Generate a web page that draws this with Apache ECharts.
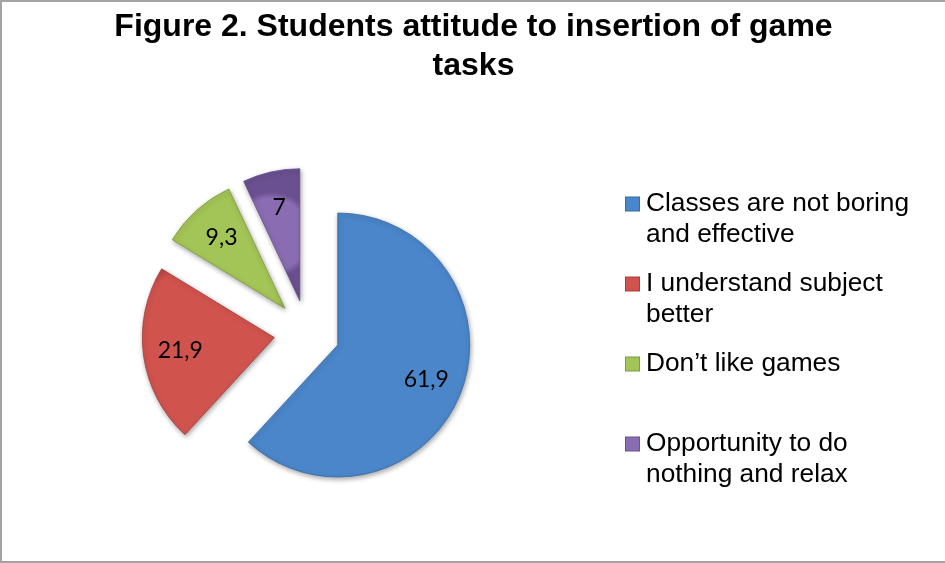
<!DOCTYPE html>
<html>
<head>
<meta charset="utf-8">
<script src="https://cdn.jsdelivr.net/npm/echarts@6/dist/echarts.min.js"></script>
<style>
  html, body { margin: 0; padding: 0; background: #fff; }
  #chart {
    width: 943px; height: 559px;
    border-top: 2px solid #a3a3a3;
    border-left: 2px solid #a3a3a3;
    border-bottom: 2px solid #a3a3a3;
  }
</style>
</head>
<body>
<div id="chart"></div>
<script>
// Survey answers (percent of students)
const categories = [
  'Classes are not boring and effective',
  'I understand subject better',
  'Don\u2019t like games',
  'Opportunity to do nothing and relax'
];
const values = [61.9, 21.9, 9.3, 7];
// Legend text wrapped the way it is laid out beside the pie
const legendLines = [
  ['Classes are not boring', 'and effective'],
  ['I understand subject', 'better'],
  ['Don\u2019t like games', ' '],
  ['Opportunity to do', 'nothing and relax']
];
const colors = ['#4a86c9', '#d1534e', '#a3c456', '#8a6cb2'];
const edgeColors = ['#3a6ba6', '#a83e3a', '#7f9c3e', '#6a5090'];

// Decimal comma in value labels
const fmt = v => String(v).replace('.', ',');

const pieCenter = [305, 331];
const pieRadius = 132;
const explode = 33;

const sliceData = categories.map((name, i) => ({
  name,
  value: values[i],
  selected: true,
  itemStyle: {
    color: {
      type: 'radial', x: 0.5, y: 0.5, r: 0.75,
      colorStops: [
        { offset: 0, color: colors[i] },
        { offset: 0.85, color: colors[i] },
        { offset: 1, color: edgeColors[i] }
      ]
    },
    borderColor: edgeColors[i],
    borderWidth: 0.8,
    shadowBlur: 5,
    shadowColor: 'rgba(0,0,0,0.35)',
    shadowOffsetX: 1,
    shadowOffsetY: 2
  }
}));

const richLegend = {
  t: { fontFamily: 'Liberation Sans, Arial, sans-serif', fontSize: 26.3, color: '#000', lineHeight: 31 },
  sp: { width: 20, height: 13 }
};
colors.forEach((c, i) => {
  richLegend['k' + i] = { width: 13, height: 13, backgroundColor: c, borderColor: edgeColors[i], borderWidth: 1 };
  richLegend['g' + i] = { width: 7 };
});

const chart = echarts.init(document.getElementById('chart'), null, { renderer: 'canvas' });
chart.setOption({
  animation: false,
  backgroundColor: '#fff',
  title: {
    text: 'Figure 2. Students attitude to insertion of game\ntasks',
    left: 'center',
    top: 1,
    textStyle: {
      fontFamily: 'Liberation Sans, Arial, sans-serif',
      fontWeight: 'bold',
      fontSize: 32,
      lineHeight: 39,
      color: '#000'
    }
  },
  legend: {
    orient: 'vertical',
    left: 623,
    top: 189,
    padding: 0,
    itemGap: 23,
    itemWidth: 0,
    itemHeight: 0,
    icon: 'rect',
    selectedMode: false,
    data: categories,
    formatter: name => {
      const i = categories.indexOf(name);
      const [a, b] = legendLines[i];
      return `{k${i}|}{g${i}|}{t|${a}}\n{sp|}{t|${b}}`;
    },
    textStyle: { rich: richLegend, padding: [0, 0, 0, -5] }
  },
  series: [
    {
      type: 'pie',
      center: pieCenter,
      radius: [0, pieRadius],
      startAngle: 90,
      clockwise: true,
      selectedMode: 'multiple',
      selectedOffset: explode,
      silent: true,
      label: { show: false },
      labelLine: { show: false },
      select: { itemStyle: {} },
      data: sliceData
    },
    {
      // transparent copy that only carries the value labels further out
      type: 'pie',
      center: pieCenter,
      radius: [0, 184],
      startAngle: 90,
      clockwise: true,
      selectedMode: 'multiple',
      selectedOffset: explode,
      silent: true,
      itemStyle: { color: 'rgba(0,0,0,0)' },
      label: {
        show: true,
        position: 'inside',
        formatter: p => fmt(p.value),
        fontFamily: 'Lato, sans-serif',
        fontSize: 23,
        color: '#000'
      },
      labelLine: { show: false },
      data: categories.map((name, i) => ({ name, value: values[i], selected: true }))
    }
  ]
});
</script>
</body>
</html>
